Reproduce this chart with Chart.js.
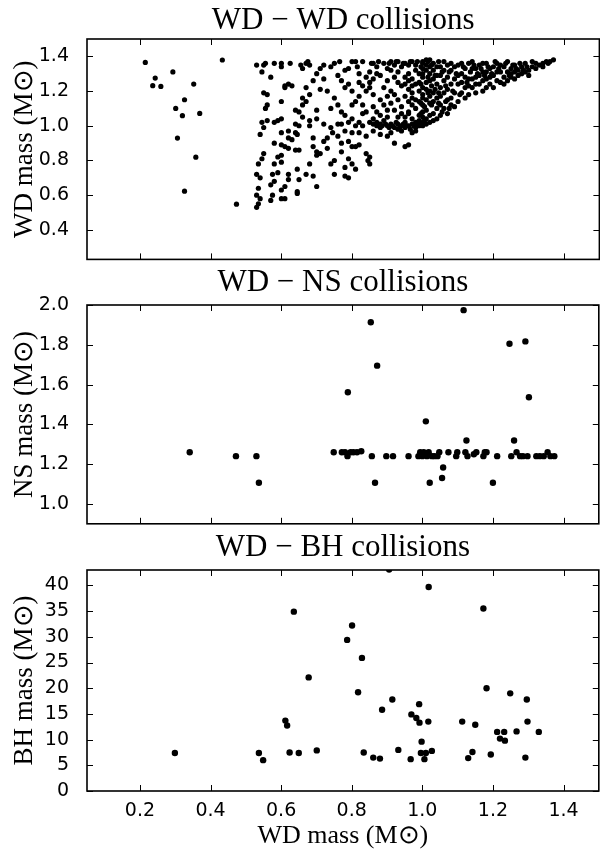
<!DOCTYPE html>
<html>
<head>
<meta charset="utf-8">
<script src="https://cdn.jsdelivr.net/npm/chart.js@4/dist/chart.umd.min.js"></script>
<style>
  html, body { margin: 0; padding: 0; background: #fff; }
  #wrap { position: relative; width: 600px; height: 854px; overflow: hidden; }
  canvas { position: absolute; left: 0; }
</style>
</head>
<body>
<div id="wrap">
  <canvas id="c1" width="602" height="262" style="top:0px"></canvas>
  <canvas id="c2" width="602" height="265" style="top:262px"></canvas>
  <canvas id="c3" width="602" height="327" style="top:527px"></canvas>
</div>
<script>
const titles = ['WD \u2212 WD collisions', 'WD \u2212 NS collisions', 'WD \u2212 BH collisions'];
const yLabels = ['WD mass (M\u2299)', 'NS mass (M\u2299)', 'BH mass (M\u2299)'];
const xLabel = 'WD mass (M\u2299)';

const xTicks = [0.2, 0.4, 0.6, 0.8, 1.0, 1.2, 1.4];
const wdTicks = [0.4, 0.6, 0.8, 1.0, 1.2, 1.4];
const nsTicks = [1.0, 1.2, 1.4, 1.6, 1.8, 2.0];
const bhTicks = [0, 5, 10, 15, 20, 25, 30, 35, 40];

// [WD mass, WD mass]
const wdwd = [
  [0.215,1.365],[0.236,1.231],[0.243,1.275],[0.259,1.227],[0.293,1.31],[0.301,1.1],[0.306,0.929],
  [0.32,1.058],[0.326,1.15],[0.326,0.623],[0.352,1.24],[0.358,0.819],[0.369,1.071],[0.433,1.379],[0.473,0.548],
  [0.53,0.53],[0.535,0.55],[0.54,0.58],[0.53,0.6],[0.535,0.64],[0.53,0.72],[0.54,0.7],[0.535,0.78],[0.545,0.81],
  [0.55,0.84],[0.54,0.95],[0.55,0.99],[0.545,1.02],[0.53,1.35],[0.55,1.35],[0.545,1.31],[0.55,1.19],[0.56,1.18],
  [0.56,1.12],[0.555,1.1],[0.56,1.03],[0.555,1.36],
  [0.57,0.57],[0.575,0.6],[0.57,0.66],[0.58,0.68],[0.575,0.72],[0.59,0.73],[0.58,0.78],[0.6,0.79],[0.59,0.82],
  [0.6,0.83],[0.58,0.9],[0.6,0.89],[0.6,0.63],[0.61,0.65],[0.62,0.69],[0.62,0.72],[0.61,0.58],[0.6,0.58],
  [0.57,1.28],[0.58,1.36],[0.6,1.36],[0.6,1.34],[0.61,1.22],[0.62,1.24],[0.6,1.14],[0.59,1.03],[0.58,1.02],
  [0.6,1.04],[0.6,0.96],[0.61,0.88],[0.62,0.87],[0.62,0.93],[0.61,1.23],
  [0.63,1.23],[0.64,1.09],[0.65,1.08],[0.64,0.96],[0.645,0.95],[0.64,0.86],[0.65,0.86],[0.645,0.75],[0.65,0.69],
  [0.645,0.61],[0.645,0.62],[0.67,0.72],[0.68,0.78],[0.66,1.16],[0.66,1.12],[0.67,1.22],[0.66,1.33],[0.67,1.36],
  [0.675,1.37],[0.68,1.35],[0.68,1.03],[0.68,1.0],[0.69,0.71],[0.7,0.65],[0.7,0.85],[0.7,0.83],[0.71,0.84],
  [0.69,0.88],[0.69,0.93],[0.7,1.04],[0.7,1.09],[0.71,1.21],[0.72,1.01],[0.73,0.93],
  [0.74,0.78],[0.745,0.96],[0.75,0.72],[0.75,0.8],[0.76,1.01],[0.77,1.01],[0.77,0.85],[0.78,0.76],[0.78,0.71],
  [0.79,0.7],[0.77,1.26],[0.78,1.32],[0.79,1.33],[0.8,1.37],[0.81,1.37],[0.8,1.12],[0.8,1.04],[0.79,1.02],
  [0.8,0.96],[0.8,0.88],[0.81,0.88],[0.82,0.89],[0.8,0.78],[0.81,0.75],[0.82,1.25],[0.82,1.3],[0.83,1.37],
  [0.79,0.81],[0.81,1.0],[0.82,1.02],[0.83,1.07],[0.84,1.08],[0.83,1.12],
  [0.84,0.84],[0.845,0.8],[0.85,0.78],[0.85,0.82],[0.84,1.2],[0.85,1.22],[0.86,1.18],[0.85,1.25],[0.86,1.27],
  [0.85,1.02],[0.86,1.04],[0.87,1.08],[0.86,0.97],[0.87,1.0],[0.88,1.01],[0.89,1.03],[0.88,1.06],[0.9,1.09],
  [0.9,1.05],[0.89,1.12],[0.9,1.26],[0.89,1.36],[0.91,1.32],[0.92,1.35],[0.88,0.95],[0.9,0.94],[0.91,0.96],
  [0.87,1.3],[0.92,1.18],[0.93,1.15],[0.91,1.2],[0.93,1.25],[0.94,1.23],[0.92,0.9],[0.93,1.01],[0.94,1.0],
  [0.95,1.02],[0.95,0.99],[0.96,1.07],[0.94,1.11],[0.95,0.88],[0.93,1.31],[0.94,1.34],[0.95,1.28],[0.96,1.21],
  [0.97,1.16],[0.96,0.89],[0.97,0.96],[0.98,0.99],[0.99,1.0],[0.98,0.97],[0.97,1.04],[0.98,1.1],[0.99,1.06],
  [0.96,1.35],[0.97,1.37],[0.98,1.32],[0.99,1.25],[0.97,1.23],
  [1.0,1.0],[1.0,1.02],[1.01,1.01],[1.01,1.04],[1.0,1.08],[1.02,1.06],[1.0,1.12],[1.01,1.15],[1.0,1.18],
  [1.02,1.2],[1.0,1.22],[1.01,1.25],[1.0,1.28],[1.02,1.3],[1.0,1.33],[1.01,1.35],[1.0,1.37],[1.02,1.38],
  [1.03,1.36],[1.03,1.32],[1.03,1.27],[1.04,1.24],[1.03,1.19],[1.03,1.14],[1.04,1.1],[1.03,1.07],[1.04,1.04],
  [1.05,1.06],[1.05,1.12],[1.05,1.17],[1.05,1.22],[1.05,1.29],[1.05,1.34],[1.06,1.37],[1.06,1.26],[1.06,1.1],
  [1.07,1.07],[1.07,1.15],[1.07,1.21],[1.08,1.32],[1.08,1.36],[1.09,1.27],[1.09,1.19],[1.09,1.11],[1.1,1.14],
  [1.1,1.24],[1.1,1.35],[1.11,1.3],[1.11,1.19],[1.12,1.22],[1.12,1.16],[1.13,1.36],[1.13,1.27],[1.14,1.33],
  [1.14,1.22],[1.15,1.19],[1.15,1.28],[1.16,1.35],[1.16,1.24],[1.17,1.31],[1.17,1.2],[1.18,1.27],[1.18,1.36],
  [1.19,1.24],[1.19,1.33],[1.2,1.29],[1.2,1.22],[1.21,1.36],[1.21,1.26],[1.22,1.31],[1.22,1.25],[1.23,1.28],
  [1.23,1.34],[1.24,1.26],[1.24,1.37],[1.25,1.3],[1.25,1.33],[1.26,1.27],[1.26,1.35],[1.27,1.29],[1.27,1.32],
  [1.28,1.34],[1.28,1.3],[1.29,1.36],[1.3,1.32],[1.31,1.34],[1.31,1.37],[1.32,1.33],[1.33,1.35],[1.34,1.36],
  [1.35,1.37],[1.36,1.37],[1.37,1.38],[1.3,1.29],[1.29,1.31],
  [1.0,1.05],[1.01,1.09],[1.02,1.13],[1.0,1.16],[1.01,1.21],[1.02,1.26],[1.0,1.3],[1.01,1.32],[1.02,1.34],
  [1.0,1.36],[1.01,1.38],[1.02,1.17],[1.02,1.02],[1.03,1.03],[1.04,1.16],[1.04,1.29],[1.04,1.34],[1.06,1.19],
  [1.06,1.32],[1.07,1.28],[1.07,1.35],[1.08,1.12],[1.08,1.24],[1.08,1.16],[1.09,1.34],[1.1,1.29],[1.11,1.25],
  [1.11,1.36],[1.12,1.33],[1.12,1.28],[1.13,1.18],[1.13,1.23],[1.14,1.27],[1.14,1.37],[1.15,1.24],[1.15,1.33],
  [1.16,1.29],[1.17,1.26],[1.17,1.36],[1.18,1.22],[1.18,1.31],[1.19,1.28],[1.2,1.34],[1.21,1.31],[1.22,1.35],
  [1.23,1.24],[1.24,1.31],[1.25,1.28],[1.26,1.31],
  [0.9,1.33],[0.91,1.37],[0.92,1.28],[0.93,1.37],[0.95,1.36],[0.96,1.3],[0.97,1.27],[0.98,1.35],[0.99,1.3],
  [0.99,1.2],[0.98,1.15],[0.97,1.12],[0.96,1.14],[0.95,1.17],[0.94,1.07],[0.93,1.05],[0.92,1.09],[0.91,1.13],
  [0.9,1.17],[0.89,1.22],[0.88,1.29],[0.87,1.34],[0.86,1.36],[0.85,1.31],[0.84,1.28],[0.83,1.23],[0.82,1.17],
  [0.81,1.14],[0.8,1.2],[0.79,1.24],[0.78,1.22],[0.77,1.08],[0.76,1.12],[0.75,1.16],[0.74,1.1],[0.73,1.2],
  [0.72,1.27],[0.72,1.35],[0.71,1.33],[0.7,1.3],[0.74,1.34],[0.75,1.36],[0.76,1.29],[0.69,1.26],[0.68,1.18],
  [0.67,1.14],[0.66,1.05],[0.65,1.0],[0.64,1.01],[0.63,0.92],[0.62,0.97],[0.73,0.87],[0.72,0.91],[0.74,0.99],
  [0.76,0.94],[0.77,0.9],[0.78,0.97],[0.79,0.91],[0.78,1.06],[0.82,0.96],[0.84,0.94],[0.86,1.11],[0.88,1.15],
  [0.83,1.0],[0.86,1.01],[0.87,1.02],[0.9,1.0],[0.91,1.01],[0.92,0.99],[0.93,0.98],[0.96,1.0],[0.97,1.01],
  [0.94,0.97],[0.98,1.02],[0.99,1.03],[0.95,1.05],[0.96,1.08],[0.99,1.14],[0.97,1.19],[0.98,1.24],[0.96,1.26],[0.95,1.24],
  [0.995,1.01],[1.005,1.03],[0.995,1.07],[1.005,1.11],[0.995,1.13],[1.015,1.19],[0.995,1.24],[1.015,1.28],
  [0.995,1.34],[1.015,1.37],[1.025,1.12],[1.025,1.23],[1.025,1.35],[1.035,1.21],[1.035,1.29],[1.045,1.13],
  [1.045,1.19],[1.045,1.37],[1.055,1.08],[1.055,1.31],[1.065,1.14],[1.065,1.23],[1.075,1.1],[1.075,1.31],
  [1.085,1.2],[1.095,1.3],[1.105,1.18],[1.115,1.34],[1.125,1.25],[1.135,1.31],[1.145,1.35],[1.155,1.3],
  [1.165,1.33],[1.175,1.29],[1.185,1.34],[1.195,1.3],[1.205,1.37],[1.215,1.33],[1.235,1.36],[1.245,1.29],
  [1.255,1.35],[1.265,1.33],[1.275,1.36],[1.285,1.32],[1.295,1.34],[1.32,1.36],[1.34,1.34],[1.355,1.36],
  [0.88,0.99],[0.885,1.0],[0.895,1.01],[0.905,0.99],[0.915,1.0],[0.925,1.02],[0.935,0.99],[0.945,1.01],
  [0.955,1.0],[0.965,0.98],[0.975,1.0],[0.985,1.01],[0.905,1.36],[0.925,1.37],[0.945,1.36],[0.965,1.37],
  [0.985,1.37],[0.855,1.36],[0.875,1.37],[0.815,1.34],[0.765,1.37],[0.625,1.36],[0.655,1.35]
];

// [WD mass, NS mass]
const wdns = [
  [0.341,1.26],[0.472,1.24],[0.53,1.24],[0.537,1.106],[0.749,1.26],[0.772,1.26],[0.781,1.26],[0.788,1.24],
  [0.797,1.26],[0.805,1.26],[0.815,1.26],[0.827,1.265],[0.789,1.561],[0.854,1.913],[0.857,1.24],[0.866,1.106],
  [0.872,1.695],[0.898,1.24],[0.917,1.24],[0.961,1.24],[0.989,1.24],[0.994,1.26],[1.0,1.24],[1.004,1.26],
  [1.01,1.415],[1.013,1.24],[1.018,1.26],[1.021,1.106],[1.027,1.24],[1.034,1.24],[1.043,1.24],[1.048,1.26],
  [1.056,1.13],[1.059,1.183],[1.074,1.26],[1.096,1.24],[1.099,1.26],[1.117,1.974],[1.122,1.26],[1.125,1.319],
  [1.128,1.24],[1.146,1.25],[1.153,1.26],[1.173,1.24],[1.177,1.26],[1.182,1.26],[1.2,1.106],[1.212,1.24],
  [1.247,1.805],[1.252,1.24],[1.26,1.319],[1.267,1.26],[1.277,1.24],[1.285,1.24],[1.292,1.817],[1.298,1.24],
  [1.302,1.536],[1.323,1.24],[1.333,1.24],[1.344,1.24],[1.355,1.26],[1.363,1.24],[1.374,1.24]
];

// [WD mass, BH mass]
const wdbh = [
  [0.299,7.4],[0.537,7.4],[0.549,6.0],[0.612,13.7],[0.617,12.75],[0.624,7.5],[0.636,34.9],[0.65,7.4],
  [0.678,22.1],[0.701,7.9],[0.787,29.4],[0.801,32.2],[0.818,19.2],[0.829,25.9],[0.834,7.5],[0.861,6.5],
  [0.88,6.3],[0.886,15.8],[0.906,43.1],[0.915,17.8],[0.932,8.0],[0.967,6.2],[0.969,14.9],[0.983,14.2],
  [0.991,16.9],[0.992,13.3],[0.996,7.4],[0.998,9.6],[1.006,6.2],[1.01,7.4],[1.017,13.5],[1.018,39.7],
  [1.027,7.8],[1.113,13.5],[1.13,6.4],[1.142,7.6],[1.15,12.9],[1.173,35.5],[1.182,20.0],[1.194,7.1],
  [1.212,11.5],[1.22,10.2],[1.232,11.5],[1.234,9.8],[1.249,19.0],[1.267,11.6],[1.292,6.5],[1.296,17.8],
  [1.298,13.5],[1.33,11.5]
];

const X_MIN = 0.05, X_MAX = 1.5;

const frameAndTicks = {
  id: 'frameAndTicks',
  afterDraw(chart) {
    const { ctx, chartArea: a, scales } = chart;
    ctx.save();
    ctx.strokeStyle = '#000';
    ctx.lineWidth = 1;
    ctx.beginPath();
    scales.x.ticks.forEach(t => {
      const px = Math.round(scales.x.getPixelForValue(t.value)) + 0.5;
      ctx.moveTo(px, a.bottom); ctx.lineTo(px, a.bottom - 6);
      ctx.moveTo(px, a.top); ctx.lineTo(px, a.top + 6);
    });
    scales.y.ticks.forEach(t => {
      const py = Math.round(scales.y.getPixelForValue(t.value)) + 0.5;
      ctx.moveTo(a.left, py); ctx.lineTo(a.left + 6, py);
      ctx.moveTo(a.right, py); ctx.lineTo(a.right - 6, py);
    });
    ctx.stroke();
    ctx.lineWidth = 1.6;
    ctx.strokeRect(a.left, a.top, a.right - a.left, a.bottom - a.top);
    ctx.restore();
  }
};

function makePanel(id, title, yLabel, points, yTicks, yMin, yMax, radius, showX, fmt) {
  new Chart(document.getElementById(id), {
    type: 'scatter',
    data: {
      datasets: [{
        data: points.map(p => ({ x: p[0], y: p[1] })),
        backgroundColor: '#000',
        borderWidth: 0,
        pointRadius: radius,
        pointHoverRadius: radius
      }]
    },
    options: {
      responsive: false,
      animation: false,
      events: [],
      layout: { padding: { left: 0, right: 1, top: 0, bottom: showX ? 0 : 2 } },
      plugins: { legend: { display: false }, tooltip: { enabled: false } },
      scales: {
        top: {
          type: 'linear', axis: 'x', position: 'top', min: X_MIN, max: X_MAX,
          grid: { display: false }, border: { display: false },
          ticks: { display: false },
          title: { display: true, text: title, color: '#000', padding: { top: 2, bottom: 0 },
                   font: { family: 'Liberation Serif', size: 31 } },
          afterFit: s => { s.height = id === 'c1' ? 39 : 43; }
        },
        x: {
          type: 'linear', position: 'bottom', min: X_MIN, max: X_MAX,
          grid: { display: false }, border: { display: false },
          afterBuildTicks: s => { s.ticks = xTicks.map(v => ({ value: v })); },
          ticks: { display: showX, color: '#000', padding: 1, maxRotation: 0,
                   font: { family: 'DejaVu Sans', size: 19 },
                   callback: v => v.toFixed(1) },
          title: { display: showX, text: xLabel, color: '#000', padding: { top: 0, bottom: 2 },
                   font: { family: 'Liberation Serif', size: 26 } },
          afterFit: s => { s.height = showX ? 63 : 0; s.paddingLeft = 0; s.paddingRight = 0; }
        },
        y: {
          type: 'linear', position: 'left', min: yMin, max: yMax,
          grid: { display: false }, border: { display: false },
          afterBuildTicks: s => { s.ticks = yTicks.map(v => ({ value: v })); },
          ticks: { color: '#000', padding: 10, font: { family: 'DejaVu Sans', size: 19 }, callback: fmt },
          title: { display: true, text: yLabel, color: '#000', padding: { top: 9, bottom: 0 },
                   font: { family: 'Liberation Serif', size: 27 } },
          afterFit: s => { s.width = 87; s.paddingTop = 0; s.paddingBottom = 0; }
        }
      }
    },
    plugins: [frameAndTicks]
  });
}

makePanel('c1', titles[0], yLabels[0], wdwd, wdTicks, 0.23, 1.5, 2.6, false, v => v.toFixed(1));
makePanel('c2', titles[1], yLabels[1], wdns, nsTicks, 0.9, 2.0, 3.2, false, v => v.toFixed(1));
makePanel('c3', titles[2], yLabels[2], wdbh, bhTicks, 0, 43, 3.2, true, v => String(v));
</script>
</body>
</html>
